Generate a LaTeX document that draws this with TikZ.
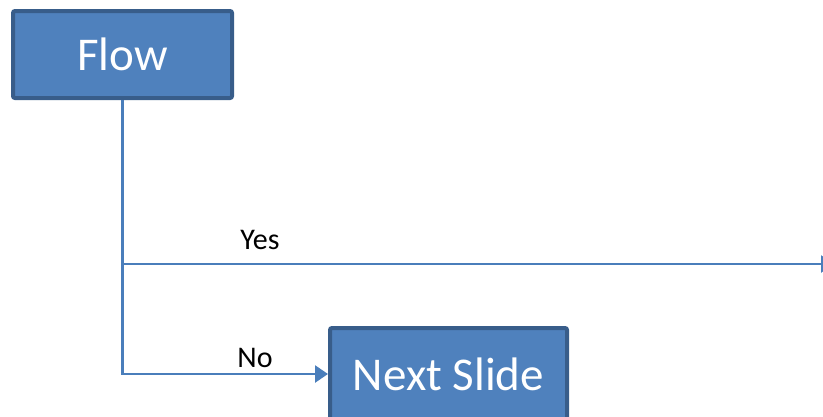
\documentclass[tikz,border=0pt]{standalone}
\usepackage{fontspec}
\setmainfont{Carlito}
\usetikzlibrary{arrows.meta}
\definecolor{boxfill}{HTML}{4F81BD}
\definecolor{boxborder}{HTML}{385D8A}
\definecolor{linecol}{HTML}{4A7EBB}
\tikzset{
  flowbox/.style={draw=boxborder, fill=boxfill, line width=4pt, rounded corners=2pt, text=white, inner sep=0pt, font=\fontsize{47}{52}\selectfont},
  conn/.style={draw=linecol, line width=2.5pt},
  arr/.style={-{Triangle[length=13pt,width=17pt]}},
  lbl/.style={font=\fontsize{30}{34}\selectfont, text=black, inner sep=0pt}
}
\begin{document}
\begin{tikzpicture}[x=1pt,y=-1pt]
\useasboundingbox (0,0) rectangle (823,416);
\clip (0,0) rectangle (823,416);
\node[flowbox, minimum width=219pt, minimum height=87pt] (flow) at (122.5,54.5) {Flow};
\node[flowbox, minimum width=237pt, minimum height=92pt] (next) at (448.5,374) {Next Slide};
\coordinate (yesend) at (834,264);
\coordinate (split) at (flow.south |- yesend);
\draw[conn, arr] (flow.south) |- (next.west);
\draw[conn, arr] (split) -- (yesend);
\node[lbl] (yes) at (260,240) {Yes};
\node[lbl] (no) at (255,358) {No};
\end{tikzpicture}
\end{document}
